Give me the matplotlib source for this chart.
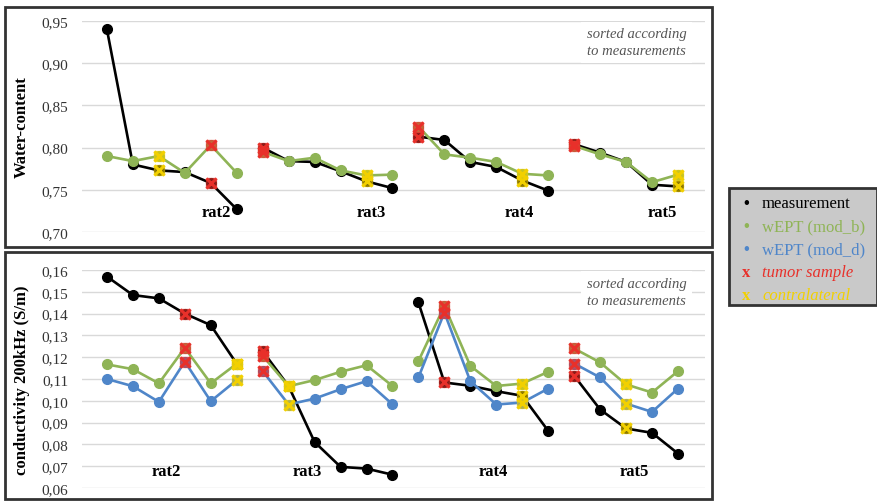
import numpy as np
import matplotlib
matplotlib.use('Agg')
import matplotlib.pyplot as plt
from matplotlib.patches import Rectangle
from matplotlib.ticker import FuncFormatter

plt.rcParams['font.family'] = ['Liberation Serif', 'DejaVu Serif']

rats = ['rat2', 'rat3', 'rat4', 'rat5']

# water content (top panel)
top_meas = [[0.940, 0.780, 0.773, 0.771, 0.758, 0.727],
            [0.800, 0.784, 0.783, 0.772, 0.760, 0.752],
            [0.813, 0.809, 0.783, 0.777, 0.761, 0.749],
            [0.804, 0.794, 0.783, 0.756, 0.754]]
top_modb = [[0.790, 0.784, 0.790, 0.770, 0.803, 0.770],
            [0.795, 0.784, 0.788, 0.773, 0.767, 0.768],
            [0.825, 0.792, 0.788, 0.783, 0.769, 0.767],
            [0.802, 0.792, 0.783, 0.759, 0.768]]
top_tumor = [4, 0, 0, 0]
top_contra = [2, 4, 4, 4]

# conductivity 200 kHz (bottom panel)
bot_meas = [[0.157, 0.1485, 0.147, 0.140, 0.1347, 0.117],
            [0.1228, 0.1067, 0.0811, 0.0697, 0.0689, 0.0661],
            [0.1451, 0.1084, 0.1069, 0.1044, 0.1023, 0.0862],
            [0.1115, 0.096, 0.0873, 0.0853, 0.0758]]
bot_modb = [[0.1167, 0.1145, 0.108, 0.1243, 0.108, 0.117],
            [0.1206, 0.1067, 0.1095, 0.1133, 0.1163, 0.1068],
            [0.1182, 0.1435, 0.116, 0.1068, 0.1079, 0.1133],
            [0.124, 0.1176, 0.1075, 0.1038, 0.1136]]
bot_modd = [[0.110, 0.1067, 0.0995, 0.118, 0.0998, 0.1095],
            [0.1136, 0.0983, 0.101, 0.1053, 0.109, 0.0984],
            [0.1107, 0.1405, 0.109, 0.0983, 0.0992, 0.1056],
            [0.1171, 0.1107, 0.0987, 0.0949, 0.1056]]
bot_tumor = [3, 0, 1, 0]
bot_contra = [5, 1, 4, 2]

c_meas = '#000000'
c_modb = '#8fb456'
c_modd = '#4f86c9'
c_tumor = '#e8302a'
c_contra = '#f2d000'

W, H = 878, 502
fig = plt.figure(figsize=(W / 100, H / 100), dpi=100)


def px_axes(x0, y0, x1, y1):
    return fig.add_axes([x0 / W, 1 - y1 / H, (x1 - x0) / W, (y1 - y0) / H])


def draw_panel(ax, series, tumor, contra):
    start = 0
    for g in range(len(rats)):
        n = len(series[0][0][g])
        xs = np.arange(start, start + n)
        for vals, col in series:
            ax.plot(xs, vals[g], '-o', color=col, lw=1.9, ms=7, zorder=3)
        for vals, col in series:
            for idx, mcol in ((tumor[g], c_tumor), (contra[g], c_contra)):
                ax.plot(xs[idx], vals[g][idx], 's', color=mcol, ms=7,
                        alpha=0.55, zorder=4)
                ax.plot(xs[idx], vals[g][idx], 'x', color=mcol, ms=7,
                        mew=2.2, zorder=5)
        start += n
    ax.set_xlim(-0.96, 23.04)
    ax.set_xticks([])
    for s in ax.spines.values():
        s.set_visible(False)
    ax.grid(axis='y', color='#d9d9d9', lw=1)
    ax.set_axisbelow(True)
    ax.tick_params(axis='y', length=0, labelsize=11, labelcolor='#333333', pad=10)
    ax.yaxis.set_major_formatter(FuncFormatter(lambda v, p: f'{v:.2f}'.replace('.', ',')))


ax1 = px_axes(82, 22, 705, 233)
draw_panel(ax1, [(top_meas, c_meas), (top_modb, c_modb)], top_tumor, top_contra)
ax1.set_ylim(0.70, 0.95)
ax1.set_yticks(np.arange(0.70, 0.951, 0.05))
ax1.set_ylabel('Water-content', fontsize=12, fontweight='bold', labelpad=8)
for name, xp in zip(rats, [4.2, 10.2, 15.9, 21.4]):
    ax1.text(xp, 0.724, name, ha='center', va='center', fontsize=12, fontweight='bold')

ax2 = px_axes(82, 271, 705, 489)
draw_panel(ax2, [(bot_meas, c_meas), (bot_modb, c_modb), (bot_modd, c_modd)],
           bot_tumor, bot_contra)
ax2.set_ylim(0.06, 0.16)
ax2.set_yticks(np.arange(0.06, 0.1601, 0.01))
ax2.set_ylabel('conductivity 200kHz (S/m)', fontsize=12, fontweight='bold', labelpad=8)
for name, xp in zip(rats, [2.3, 7.7, 14.9, 20.3]):
    ax2.text(xp, 0.0678, name, ha='center', va='center', fontsize=12, fontweight='bold')

# note boxes
for ax in (ax1, ax2):
    ax.text(0.81, 0.97, 'sorted according\nto measurements', transform=ax.transAxes,
            ha='left', va='top', fontsize=10.5, style='italic', color='#555555',
            linespacing=1.4, zorder=6,
            bbox=dict(facecolor='white', edgecolor='none', pad=4))

# panel frames
fig.patches.append(Rectangle((5 / W, 1 - 248 / H), 707 / W, 240 / H, transform=fig.transFigure,
                             fill=False, edgecolor='#333333', lw=2))
fig.patches.append(Rectangle((5 / W, 1 - 500 / H), 707 / W, 247 / H, transform=fig.transFigure,
                             fill=False, edgecolor='#333333', lw=2))

# legend box
fig.patches.append(Rectangle((729 / W, 1 - 306 / H), 148 / W, 117 / H, transform=fig.transFigure,
                             facecolor='#c9c9c9', edgecolor='#333333', lw=2))
leg = [('•', 'measurement', c_meas, 'normal'),
       ('•', 'wEPT (mod_b)', c_modb, 'normal'),
       ('•', 'wEPT (mod_d)', c_modd, 'normal'),
       ('x', 'tumor sample', c_tumor, 'italic'),
       ('x', 'contralateral', c_contra, 'italic')]
for i, (m, lab, col, st) in enumerate(leg):
    yy = 1 - (204 + 23 * i) / H
    fig.text(746 / W, yy, m, color=col, ha='center', va='center', fontsize=12,
             fontweight='bold')
    fig.text(762 / W, yy, lab, color=col, ha='left', va='center', fontsize=12, style=st)

fig.savefig('out.png', dpi=100)
